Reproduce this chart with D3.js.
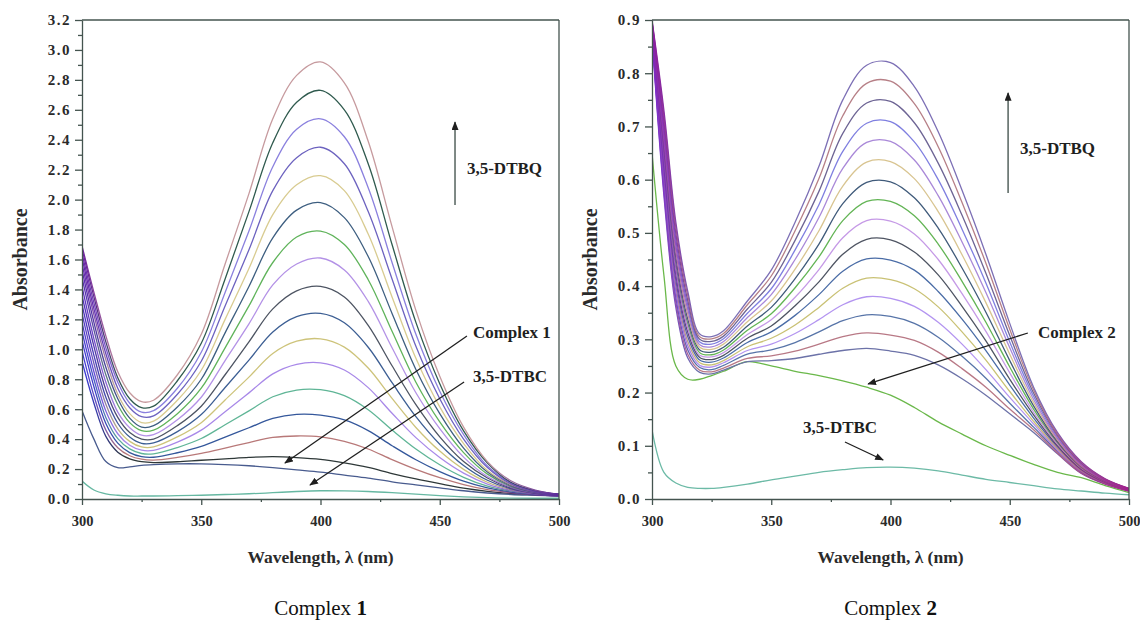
<!DOCTYPE html>
<html>
<head>
<meta charset="utf-8">
<script src="https://cdn.jsdelivr.net/npm/d3@7"></script>
<style>
  html, body { margin: 0; padding: 0; background: #ffffff; }
  svg { display: block; }
</style>
</head>
<body>
<svg id="chart" width="1140" height="621"></svg>
<script>
// Wavelength grid (nm) shared by every spectrum
const wavelengths = [300, 305, 310, 315, 320, 325, 330, 340, 350, 360, 370, 380, 390, 400, 410, 420, 430, 440, 450, 460, 470, 480, 490, 500];

// Complex 1: spectra recorded while 3,5-DTBQ builds up (highest first)
const dtbqGrowth1 = [
  [1.69, 1.38, 1.09, 0.85, 0.71, 0.65, 0.66, 0.83, 1.10, 1.57, 2.04, 2.54, 2.83, 2.92, 2.78, 2.39, 1.82, 1.26, 0.82, 0.48, 0.25, 0.12, 0.06, 0.03],
  [1.67, 1.35, 1.05, 0.81, 0.67, 0.61, 0.62, 0.79, 1.04, 1.47, 1.92, 2.38, 2.65, 2.73, 2.60, 2.24, 1.70, 1.18, 0.77, 0.455, 0.24, 0.11, 0.056, 0.033],
  [1.64, 1.31, 1.01, 0.78, 0.64, 0.58, 0.59, 0.74, 0.98, 1.38, 1.79, 2.22, 2.47, 2.54, 2.42, 2.08, 1.58, 1.10, 0.72, 0.43, 0.22, 0.106, 0.053, 0.032],
  [1.61, 1.27, 0.97, 0.74, 0.61, 0.55, 0.555, 0.70, 0.92, 1.29, 1.665, 2.06, 2.28, 2.35, 2.24, 1.92, 1.47, 1.02, 0.67, 0.40, 0.21, 0.10, 0.05, 0.03],
  [1.57, 1.23, 0.93, 0.70, 0.57, 0.51, 0.52, 0.66, 0.86, 1.20, 1.54, 1.90, 2.10, 2.16, 2.06, 1.77, 1.35, 0.94, 0.615, 0.37, 0.19, 0.094, 0.049, 0.03],
  [1.53, 1.18, 0.88, 0.67, 0.54, 0.48, 0.49, 0.615, 0.80, 1.11, 1.42, 1.745, 1.93, 1.98, 1.88, 1.62, 1.24, 0.865, 0.57, 0.34, 0.18, 0.09, 0.047, 0.03],
  [1.48, 1.13, 0.83, 0.63, 0.51, 0.456, 0.46, 0.57, 0.74, 1.01, 1.29, 1.58, 1.75, 1.79, 1.70, 1.465, 1.12, 0.78, 0.515, 0.31, 0.166, 0.083, 0.044, 0.028],
  [1.42, 1.07, 0.78, 0.58, 0.476, 0.426, 0.43, 0.53, 0.68, 0.925, 1.17, 1.43, 1.57, 1.61, 1.53, 1.32, 1.01, 0.71, 0.47, 0.28, 0.15, 0.078, 0.042, 0.027],
  [1.36, 1.02, 0.73, 0.545, 0.444, 0.40, 0.40, 0.49, 0.62, 0.83, 1.05, 1.27, 1.39, 1.42, 1.35, 1.16, 0.89, 0.63, 0.415, 0.25, 0.14, 0.072, 0.04, 0.026],
  [1.30, 0.96, 0.68, 0.506, 0.414, 0.372, 0.375, 0.45, 0.564, 0.745, 0.928, 1.116, 1.218, 1.24, 1.177, 1.014, 0.777, 0.55, 0.366, 0.224, 0.125, 0.067, 0.038, 0.025],
  [1.24, 0.905, 0.633, 0.469, 0.385, 0.348, 0.348, 0.415, 0.51, 0.662, 0.814, 0.972, 1.054, 1.07, 1.015, 0.875, 0.672, 0.478, 0.32, 0.198, 0.112, 0.062, 0.036, 0.024],
  [1.18, 0.85, 0.588, 0.436, 0.359, 0.326, 0.325, 0.38, 0.46, 0.583, 0.709, 0.836, 0.90, 0.91, 0.862, 0.744, 0.573, 0.41, 0.277, 0.173, 0.10, 0.057, 0.034, 0.024],
  [1.12, 0.80, 0.545, 0.403, 0.335, 0.304, 0.302, 0.344, 0.404, 0.496, 0.589, 0.683, 0.728, 0.73, 0.69, 0.596, 0.461, 0.334, 0.229, 0.145, 0.086, 0.052, 0.032, 0.023],
  [1.06, 0.75, 0.504, 0.373, 0.31, 0.283, 0.279, 0.309, 0.351, 0.413, 0.476, 0.538, 0.565, 0.56, 0.528, 0.457, 0.356, 0.262, 0.183, 0.119, 0.074, 0.046, 0.03, 0.022],
  [0.99, 0.69, 0.46, 0.342, 0.289, 0.266, 0.26, 0.278, 0.305, 0.34, 0.377, 0.411, 0.421, 0.415, 0.385, 0.334, 0.263, 0.198, 0.142, 0.096, 0.062, 0.042, 0.028, 0.021],
  [0.92, 0.64, 0.418, 0.313, 0.268, 0.249, 0.243, 0.249, 0.259, 0.268, 0.278, 0.283, 0.277, 0.265, 0.241, 0.211, 0.17, 0.134, 0.102, 0.072, 0.051, 0.037, 0.027, 0.021]
];
const complex1Spectrum = [0.59, 0.40, 0.25, 0.21, 0.215, 0.225, 0.23, 0.235, 0.235, 0.23, 0.222, 0.21, 0.195, 0.18, 0.16, 0.14, 0.115, 0.095, 0.075, 0.055, 0.04, 0.03, 0.025, 0.02];
const dtbc1Spectrum = [0.12, 0.06, 0.035, 0.025, 0.02, 0.02, 0.02, 0.022, 0.025, 0.03, 0.035, 0.042, 0.05, 0.055, 0.054, 0.05, 0.042, 0.032, 0.022, 0.014, 0.009, 0.006, 0.005, 0.005];

// Complex 2: spectra recorded while 3,5-DTBQ builds up (highest first)
const dtbqGrowth2 = [
  [0.90, 0.73, 0.52, 0.39, 0.31, 0.305, 0.316, 0.372, 0.43, 0.52, 0.625, 0.75, 0.815, 0.82, 0.775, 0.69, 0.58, 0.46, 0.33, 0.21, 0.125, 0.07, 0.038, 0.02],
  [0.898, 0.72, 0.51, 0.382, 0.305, 0.301, 0.311, 0.365, 0.419, 0.504, 0.602, 0.72, 0.781, 0.785, 0.743, 0.662, 0.557, 0.443, 0.319, 0.205, 0.122, 0.069, 0.037, 0.02],
  [0.896, 0.709, 0.499, 0.373, 0.30, 0.296, 0.306, 0.357, 0.407, 0.486, 0.578, 0.687, 0.744, 0.747, 0.707, 0.631, 0.533, 0.424, 0.307, 0.199, 0.12, 0.067, 0.037, 0.019],
  [0.894, 0.697, 0.487, 0.364, 0.295, 0.291, 0.301, 0.349, 0.395, 0.468, 0.553, 0.653, 0.706, 0.709, 0.671, 0.60, 0.507, 0.406, 0.295, 0.193, 0.117, 0.066, 0.036, 0.019],
  [0.892, 0.686, 0.476, 0.356, 0.29, 0.286, 0.296, 0.341, 0.384, 0.45, 0.529, 0.621, 0.67, 0.672, 0.637, 0.57, 0.483, 0.388, 0.284, 0.187, 0.114, 0.064, 0.035, 0.019],
  [0.89, 0.675, 0.465, 0.347, 0.285, 0.281, 0.291, 0.333, 0.372, 0.432, 0.504, 0.588, 0.633, 0.634, 0.602, 0.54, 0.459, 0.369, 0.272, 0.181, 0.111, 0.062, 0.035, 0.018],
  [0.888, 0.664, 0.454, 0.338, 0.28, 0.276, 0.285, 0.325, 0.36, 0.414, 0.479, 0.555, 0.595, 0.596, 0.566, 0.509, 0.434, 0.351, 0.26, 0.175, 0.108, 0.061, 0.034, 0.018],
  [0.886, 0.653, 0.443, 0.33, 0.275, 0.271, 0.28, 0.317, 0.348, 0.397, 0.455, 0.523, 0.559, 0.559, 0.532, 0.479, 0.409, 0.332, 0.248, 0.169, 0.106, 0.059, 0.033, 0.018],
  [0.884, 0.642, 0.432, 0.321, 0.27, 0.267, 0.275, 0.309, 0.337, 0.379, 0.431, 0.491, 0.523, 0.522, 0.498, 0.45, 0.386, 0.315, 0.237, 0.163, 0.103, 0.058, 0.033, 0.017],
  [0.882, 0.632, 0.422, 0.313, 0.266, 0.262, 0.27, 0.302, 0.325, 0.363, 0.408, 0.46, 0.488, 0.487, 0.464, 0.421, 0.362, 0.297, 0.225, 0.158, 0.10, 0.056, 0.032, 0.017],
  [0.879, 0.621, 0.411, 0.305, 0.261, 0.257, 0.265, 0.294, 0.314, 0.345, 0.384, 0.428, 0.451, 0.449, 0.43, 0.39, 0.338, 0.279, 0.214, 0.152, 0.098, 0.055, 0.031, 0.017],
  [0.877, 0.61, 0.40, 0.296, 0.256, 0.252, 0.26, 0.286, 0.302, 0.327, 0.36, 0.396, 0.415, 0.412, 0.395, 0.361, 0.314, 0.261, 0.202, 0.146, 0.095, 0.053, 0.03, 0.016],
  [0.875, 0.599, 0.389, 0.288, 0.251, 0.248, 0.256, 0.279, 0.291, 0.311, 0.337, 0.365, 0.38, 0.377, 0.362, 0.332, 0.291, 0.243, 0.191, 0.141, 0.092, 0.052, 0.03, 0.016],
  [0.874, 0.589, 0.379, 0.28, 0.247, 0.243, 0.251, 0.272, 0.28, 0.294, 0.314, 0.335, 0.346, 0.343, 0.33, 0.304, 0.268, 0.227, 0.18, 0.135, 0.09, 0.051, 0.029, 0.016],
  [0.872, 0.579, 0.369, 0.272, 0.242, 0.239, 0.246, 0.264, 0.269, 0.278, 0.291, 0.305, 0.312, 0.308, 0.298, 0.276, 0.245, 0.21, 0.169, 0.13, 0.087, 0.049, 0.029, 0.015],
  [0.87, 0.57, 0.36, 0.265, 0.238, 0.235, 0.242, 0.258, 0.26, 0.264, 0.272, 0.279, 0.283, 0.278, 0.27, 0.252, 0.226, 0.195, 0.16, 0.125, 0.085, 0.048, 0.028, 0.015]
];
const complex2Spectrum = [0.65, 0.42, 0.25, 0.225, 0.225, 0.232, 0.24, 0.258, 0.25, 0.24, 0.232, 0.222, 0.21, 0.195, 0.172, 0.145, 0.122, 0.10, 0.082, 0.065, 0.05, 0.04, 0.025, 0.012];
const dtbc2Spectrum = [0.13, 0.05, 0.03, 0.022, 0.02, 0.02, 0.022, 0.028, 0.036, 0.043, 0.05, 0.055, 0.059, 0.06, 0.058, 0.053, 0.045, 0.037, 0.031, 0.025, 0.019, 0.015, 0.011, 0.008];

// Axis ticks
const xMajorTicks = [300, 350, 400, 450, 500];
const xMinorTicks = [325, 375, 425, 475];
const yTicks1 = [0.0, 0.2, 0.4, 0.6, 0.8, 1.0, 1.2, 1.4, 1.6, 1.8, 2.0, 2.2, 2.4, 2.6, 2.8, 3.0, 3.2];
const yMinor1 = [0.1, 0.3, 0.5, 0.7, 0.9, 1.1, 1.3, 1.5, 1.7, 1.9, 2.1, 2.3, 2.5, 2.7, 2.9, 3.1];
const yTicks2 = [0.0, 0.1, 0.2, 0.3, 0.4, 0.5, 0.6, 0.7, 0.8, 0.9];
const yMinor2 = [0.05, 0.15, 0.25, 0.35, 0.45, 0.55, 0.65, 0.75, 0.85];

// Line colours of the growth spectra (same order as the data)
const growthColors1 = ["#c69a9e", "#2f5a4e", "#8a80de", "#6c62bf", "#d8cb90", "#3d5e80", "#5fb35a", "#b391e6", "#4d5462", "#3c5e93", "#cdc37a", "#a888e8", "#5fb596", "#34579b", "#b87878", "#2e3838"];
const growthColors2 = ["#7c6fb5", "#b67f86", "#6d6494", "#7f7fe0", "#a988d8", "#d8c490", "#3f5a7a", "#62b454", "#c599e6", "#4e5462", "#4a6ca6", "#c9c174", "#b394f0", "#5774a8", "#b87885", "#6c72a8"];

const svg = d3.select("#chart");
const defs = svg.append("defs");
const axisColor = "#44544f";
const serif = "'Liberation Serif', 'Times New Roman', Times, serif";

// Arrowhead used by the annotations
defs.append("marker")
  .attr("id", "arrowHead")
  .attr("viewBox", "0 0 10 8")
  .attr("refX", 9).attr("refY", 4)
  .attr("markerWidth", 9).attr("markerHeight", 7)
  .attr("markerUnits", "userSpaceOnUse")
  .attr("orient", "auto")
  .append("path").attr("d", "M0,0 L10,4 L0,8 Z").attr("fill", "#1f1f1f");

function drawPanel(cfg) {
  const g = svg.append("g");
  const x = d3.scaleLinear().domain([300, 500]).range([cfg.left, cfg.right]);
  const y = d3.scaleLinear().domain([0, cfg.yMax]).range([cfg.bottom, cfg.top]);

  const clipId = "clip-" + cfg.id;
  defs.append("clipPath").attr("id", clipId)
    .append("rect")
    .attr("x", cfg.left).attr("y", cfg.top)
    .attr("width", cfg.right - cfg.left).attr("height", cfg.bottom - cfg.top);

  const line = d3.line()
    .x((d, i) => x(wavelengths[i]))
    .y(d => y(d))
    .curve(d3.curveCatmullRom.alpha(0.5));

  const plot = g.append("g").attr("clip-path", `url(#${clipId})`);

  // Reference spectra (catechol substrate and complex)
  plot.append("path").datum(cfg.dtbc)
    .attr("d", line).attr("fill", "none")
    .attr("stroke", cfg.dtbcColor).attr("stroke-width", 1.3);
  plot.append("path").datum(cfg.complex)
    .attr("d", line).attr("fill", "none")
    .attr("stroke", cfg.complexColor).attr("stroke-width", 1.3);

  // Growth spectra, each with a colour that deepens where the bundle crowds together
  const n = cfg.growth.length;
  for (let i = n - 1; i >= 0; i--) {
    const gid = `grad-${cfg.id}-${i}`;
    const tintL = d3.interpolateRgb(cfg.tintTop, cfg.tintBottom)(i / (n - 1));
    const grad = defs.append("linearGradient").attr("id", gid)
      .attr("gradientUnits", "userSpaceOnUse")
      .attr("x1", x(300)).attr("x2", x(500)).attr("y1", 0).attr("y2", 0);
    grad.append("stop").attr("offset", 0).attr("stop-color", tintL);
    grad.append("stop").attr("offset", cfg.tintStopL).attr("stop-color", cfg.colors[i]);
    grad.append("stop").attr("offset", cfg.tintStopR).attr("stop-color", cfg.colors[i]);
    grad.append("stop").attr("offset", 1).attr("stop-color", cfg.tintRight);
    plot.append("path").datum(cfg.growth[i])
      .attr("d", line).attr("fill", "none")
      .attr("stroke", `url(#${gid})`).attr("stroke-width", 1.3);
  }

  // Axes
  const styleAxis = sel => {
    sel.selectAll("path, line").attr("stroke", axisColor).attr("stroke-width", 1.3);
    sel.selectAll("text")
      .attr("fill", "#2a2a2a")
      .attr("font-family", serif)
      .attr("font-weight", "bold");
  };

  g.append("g").attr("transform", `translate(0,${cfg.bottom})`)
    .call(d3.axisBottom(x).tickValues(xMinorTicks).tickSize(3).tickSizeOuter(0).tickFormat(""))
    .call(s => s.select(".domain").remove())
    .call(styleAxis);
  g.append("g").attr("transform", `translate(0,${cfg.bottom})`)
    .call(d3.axisBottom(x).tickValues(xMajorTicks).tickSize(6).tickPadding(11).tickSizeOuter(0).tickFormat(d3.format("d")))
    .call(styleAxis)
    .call(s => s.selectAll("text").attr("font-size", 14.5));

  g.append("g").attr("transform", `translate(${cfg.left},0)`)
    .call(d3.axisLeft(y).tickValues(cfg.yMinor).tickSize(4).tickSizeOuter(0).tickFormat(""))
    .call(s => s.select(".domain").remove())
    .call(styleAxis);
  g.append("g").attr("transform", `translate(${cfg.left},0)`)
    .call(d3.axisLeft(y).tickValues(cfg.yTicks).tickSize(7).tickPadding(4).tickSizeOuter(0).tickFormat(d3.format(".1f")))
    .call(styleAxis)
    .call(s => s.selectAll("text").attr("font-size", 15).attr("letter-spacing", "1.5px"));

  // Frame on the top and right
  g.append("line")
    .attr("x1", x(300)).attr("x2", x(500)).attr("y1", y(cfg.yMax)).attr("y2", y(cfg.yMax))
    .attr("stroke", axisColor).attr("stroke-width", 1.3);
  g.append("line")
    .attr("x1", x(500)).attr("x2", x(500)).attr("y1", y(0)).attr("y2", y(cfg.yMax))
    .attr("stroke", axisColor).attr("stroke-width", 1.3);

  // Axis titles
  g.append("text")
    .attr("transform", `translate(${cfg.left - 62},${(cfg.top + cfg.bottom) / 2}) rotate(-90)`)
    .attr("text-anchor", "middle").attr("dy", "0.35em")
    .attr("font-family", serif).attr("font-weight", "bold").attr("font-size", 20)
    .attr("fill", "#2a2a2a")
    .text("Absorbance");
  g.append("text")
    .attr("x", (cfg.left + cfg.right) / 2).attr("y", cfg.bottom + 58)
    .attr("text-anchor", "middle").attr("dy", "0.35em")
    .attr("font-family", serif).attr("font-weight", "bold").attr("font-size", 17.5)
    .attr("fill", "#2a2a2a")
    .text("Wavelength, \u03bb (nm)");

  // Caption under the panel
  const cap = g.append("text")
    .attr("x", (cfg.left + cfg.right) / 2).attr("y", cfg.bottom + 109)
    .attr("text-anchor", "middle").attr("dy", "0.35em")
    .attr("font-family", serif).attr("font-size", 21).attr("fill", "#111");
  cap.append("tspan").text("Complex ");
  cap.append("tspan").attr("font-weight", "bold").text(cfg.label);

  // Annotations
  const note = (t, w, a) => g.append("text")
    .attr("x", x(w)).attr("y", y(a)).attr("dy", "0.35em")
    .attr("font-family", serif).attr("font-weight", "bold").attr("font-size", 17)
    .attr("fill", "#1f1f1f").text(t);
  const arrow = (w1, a1, w2, a2, color) => g.append("line")
    .attr("x1", x(w1)).attr("y1", y(a1)).attr("x2", x(w2)).attr("y2", y(a2))
    .attr("stroke", color || "#1f1f1f").attr("stroke-width", 1.3)
    .attr("marker-end", "url(#arrowHead)");

  cfg.notes.forEach(nt => {
    note(nt.text, nt.tx, nt.ty);
    arrow(nt.from[0], nt.from[1], nt.to[0], nt.to[1], nt.color);
  });
}

drawPanel({
  id: "c1", label: "1",
  left: 82, right: 559, top: 20, bottom: 499, yMax: 3.2,
  yTicks: yTicks1, yMinor: yMinor1,
  growth: dtbqGrowth1, colors: growthColors1,
  complex: complex1Spectrum, complexColor: "#485b8e",
  dtbc: dtbc1Spectrum, dtbcColor: "#66b8a2",
  tintTop: "#6e1f9e", tintBottom: "#3a3ae0", tintRight: "#5a2a9a",
  tintStopL: 0.09, tintStopR: 0.84,
  notes: [
    { text: "3,5-DTBQ", tx: 461.4, ty: 2.211, from: [456.4, 1.964], to: [456.4, 2.518], color: "#3a4a45" },
    { text: "Complex 1", tx: 463.9, ty: 1.116, from: [461.4, 1.089], to: [385.1, 0.2405] },
    { text: "3,5-DTBC", tx: 463.9, ty: 0.822, from: [460.2, 0.7816], to: [395.6, 0.0935] }
  ]
});

drawPanel({
  id: "c2", label: "2",
  left: 652, right: 1129, top: 20, bottom: 499, yMax: 0.9,
  yTicks: yTicks2, yMinor: yMinor2,
  growth: dtbqGrowth2, colors: growthColors2,
  complex: complex2Spectrum, complexColor: "#6ab84a",
  dtbc: dtbc2Spectrum, dtbcColor: "#6cbaa6",
  tintTop: "#8c1a9c", tintBottom: "#7a2ad0", tintRight: "#a0208c",
  tintStopL: 0.1, tintStopR: 0.8,
  notes: [
    { text: "3,5-DTBQ", tx: 454.3, ty: 0.6595, from: [449.3, 0.575], to: [449.3, 0.763], color: "#3a4a45" },
    { text: "Complex 2", tx: 461.8, ty: 0.3138, from: [457.6, 0.3119], to: [390.6, 0.2161] },
    { text: "3,5-DTBC", tx: 363.3, ty: 0.1353, from: [380.9, 0.1071], to: [396.9, 0.0733] }
  ]
});
</script>
</body>
</html>
